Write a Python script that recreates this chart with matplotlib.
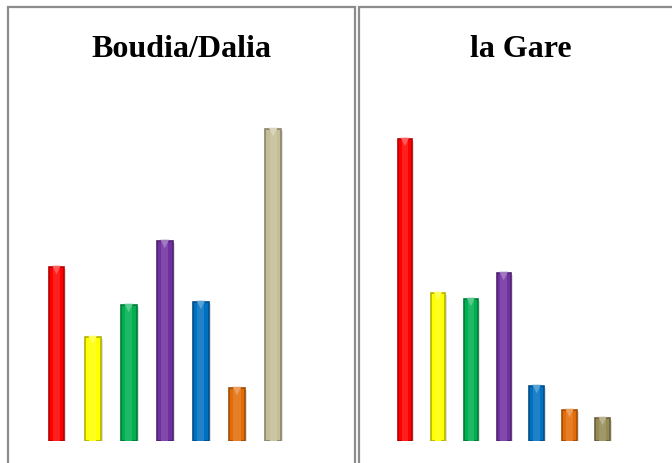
import matplotlib
matplotlib.use("Agg")
import matplotlib.pyplot as plt
import matplotlib.transforms as mtransforms
from matplotlib.patches import Rectangle
from matplotlib.colors import to_rgb

# bar heights for the two sites (same scale on both panels)
left_title = "Boudia/Dalia"
right_title = "la Gare"
left_values = [174, 104, 136, 200, 139, 53, 312]
right_values = [302, 148, 142, 168, 55, 31, 23]
left_colors = ["#FF0000", "#FFFF00", "#00B050", "#7030A0", "#0070C0", "#E36C09", "#C4BD97"]
right_colors = ["#FF0000", "#FFFF00", "#00B050", "#7030A0", "#0070C0", "#E36C09", "#948A54"]

W, H = 672, 464
fig = plt.figure(figsize=(W / 100, H / 100), dpi=100)


def shade(c, f):
    r, g, b = to_rgb(c)
    if f < 1:
        return (r * f, g * f, b * f)
    f = f - 1
    return (r + (1 - r) * f, g + (1 - g) * f, b + (1 - b) * f)


def px_axes(x0, x1, top, bottom):
    # axes given in pixels measured from the top-left corner
    return fig.add_axes([x0 / W, 1 - bottom / H, (x1 - x0) / W, (bottom - top) / H])


def draw_panel(x0, x1, bar_left, bar_right, title, values, colors):
    # panel frame
    fig.patches.append(Rectangle((x0 / W, -0.1), (x1 - x0) / W, 1.1 - 8 / H,
                                 transform=fig.transFigure, fill=False,
                                 edgecolor="#8c8c8c", linewidth=1.6))
    fig.text((x0 + x1) / 2 / W, 1 - 57 / H, title, ha="center", va="baseline",
             fontsize=23, fontweight="bold", family="Liberation Serif")

    ax = px_axes(bar_left, bar_right, 92, 442)
    ax.set_xlim(-0.5, len(values) - 0.5)
    ax.set_ylim(0, 350)
    ax.axis("off")
    xs = range(len(values))
    w = 0.44
    # soft drop shadow
    shadow = mtransforms.offset_copy(ax.transData, fig=fig, x=2, y=-2, units="dots")
    ax.bar(xs, values, width=w, color="#000000", alpha=0.12, transform=shadow, zorder=1)
    ax.bar(xs, values, width=w, color=colors, zorder=2,
           edgecolor=[shade(c, 0.7) for c in colors], linewidth=1.2)
    # inner highlight strip
    ax.bar(xs, values, width=w * 0.45, color=[shade(c, 1.12) for c in colors],
           linewidth=0, zorder=3)
    # small bevel triangle at the top of each bar
    tip = mtransforms.offset_copy(ax.transData, fig=fig, x=0, y=-3, units="dots")
    ax.scatter(xs, values, marker="v", s=38, transform=tip, zorder=4,
               color=[shade(c, 1.35) for c in colors], linewidths=0)
    ax.set_clip_on(False)


draw_panel(8, 355, 38.4, 291.2, left_title, left_values, left_colors)
draw_panel(359, 682, 388.5, 619, right_title, right_values, right_colors)

fig.savefig("out.png", dpi=100, facecolor="white")
